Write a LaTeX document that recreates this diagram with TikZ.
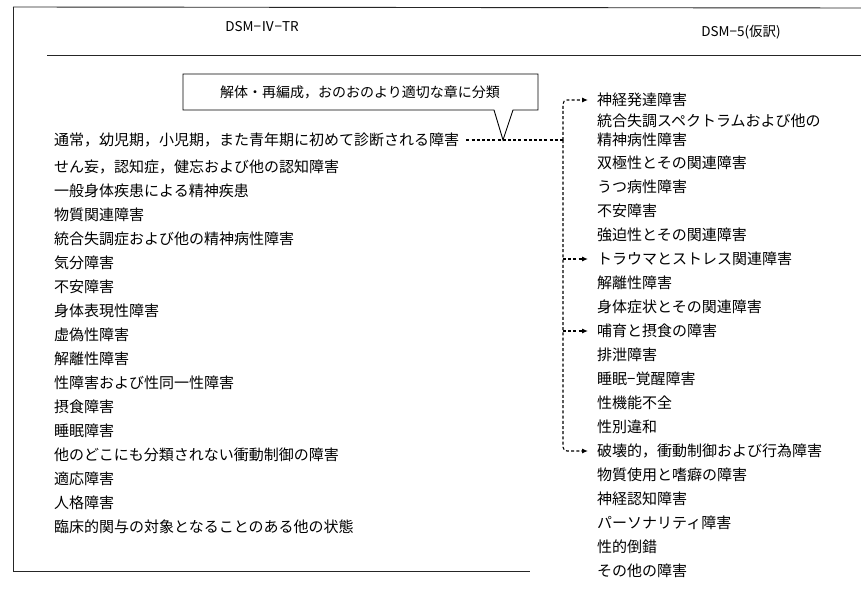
\documentclass[tikz,border=0pt]{standalone}
\usepackage{fontspec}
\setmainfont{Noto Sans CJK JP}
\usetikzlibrary{arrows.meta}
\begin{document}
\begin{tikzpicture}[x=1pt,y=-1pt,
  frameline/.style={line width=0.9pt, black!85},
  hdr/.style={inner sep=0pt, font=\fontsize{13.5}{16}\selectfont},
  item/.style={anchor=west, inner sep=0pt, font=\fontsize{15}{19}\selectfont},
  conn/.style={line width=1.1pt, dash pattern=on 3pt off 2.2pt},
  arr/.style={conn, -{Latex[length=6pt,width=5pt]}, shorten >=9pt}]
\useasboundingbox (0,0) rectangle (861,599);
\fill[white] (0,0) rectangle (861,599);
% frame
\draw[frameline] (13,7) -- (861,8);
\draw[frameline] (13,7) -- (13,571);
\draw[frameline] (13,571) -- (530,571);
\draw[frameline] (47,55) -- (861,55);
% headers
\node[hdr] (h1) at (262,27) {DSM−Ⅳ−TR};
\node[hdr] (h2) at (741,32) {DSM−5(仮訳)};
% callout
\draw[line width=0.9pt, fill=white] (183,74) -- (538,74) -- (538,110) -- (513,110) -- (503,140) -- (494,110) -- (183,110) -- cycle;
\node[inner sep=0pt, font=\fontsize{14}{16}\selectfont] (note) at (360,92) {解体・再編成，おのおのより適切な章に分類};
% left column
\node[item] (l1) at (54,140) {通常，幼児期，小児期，また青年期に初めて診断される障害};
\node[item] (l2) at (54,167) {せん妄，認知症，健忘および他の認知障害};
\foreach \t [count=\i from 3] in {一般身体疾患による精神疾患, 物質関連障害, 統合失調症および他の精神病性障害, 気分障害, 不安障害, 身体表現性障害, 虚偽性障害, 解離性障害, 性障害および性同一性障害, 摂食障害, 睡眠障害, 他のどこにも分類されない衝動制御の障害, 適応障害, 人格障害, 臨床的関与の対象となることのある他の状態}
  {\node[item] (l\i) at (54,{191+24*(\i-3)}) {\t};}
% right column
\node[item] (r1) at (597,100) {神経発達障害};
\node[item, align=left] (r2) at (597,130) {統合失調スペクトラムおよび他の\\精神病性障害};
\foreach \t [count=\i from 3] in {双極性とその関連障害, うつ病性障害, 不安障害, 強迫性とその関連障害, トラウマとストレス関連障害, 解離性障害, 身体症状とその関連障害, 哺育と摂食の障害, 排泄障害, 睡眠−覚醒障害, 性機能不全, 性別違和, 破壊的，衝動制御および行為障害, 物質使用と嗜癖の障害, 神経認知障害, パーソナリティ障害, 性的倒錯, その他の障害}
  {\node[item] (r\i) at (597,{163+24*(\i-3)}) {\t};}
% connectors
\coordinate (jm) at (563,140);
\draw[conn, shorten <=7pt] (l1.east) -- (jm);
\draw[arr, rounded corners=4pt] (jm) |- (r1.west);
\draw[arr, rounded corners=4pt] (jm) |- (r15.west);
\draw[arr] (jm |- r7.west) -- (r7.west);
\draw[arr] (jm |- r10.west) -- (r10.west);
\end{tikzpicture}
\end{document}
